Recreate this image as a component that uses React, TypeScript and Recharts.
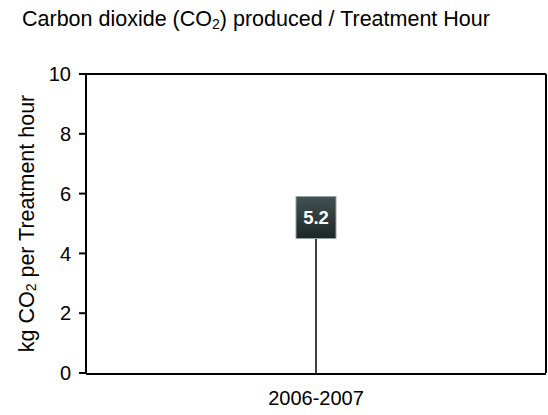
/* CO2 produced per treatment hour, single-period marker chart. */

import { Bar, ComposedChart, Label, ReferenceLine, XAxis, YAxis } from "recharts";

const categories = ["2006-2007"];
const co2PerHour = [5.2];
const yTicks = [0, 2, 4, 6, 8, 10];
const edgeTicks = [0, 1];

const data = categories.map((cat, i) => ({ cat, value: co2PerHour[i] }));

const FONT = "'Liberation Sans', Arial, sans-serif";

function MarkerShape(props: any) {
  const { x, y, width, height, payload } = props;
  const cx = x + width / 2;
  const half = 21;
  return (
    <g>
      <line x1={cx} x2={cx} y1={y + half} y2={y + height} stroke="#000" strokeWidth={1.5} />
      <rect x={cx - 20} y={y - half} width={40} height={half * 2} fill="url(#boxGrad)" stroke="#95a2a2" strokeWidth={1} />
      <text x={cx} y={y} dy="0.36em" textAnchor="middle" fill="#fff" fontWeight="bold" fontSize={18.5} fontFamily={FONT}>
        {payload.value}
      </text>
    </g>
  );
}

function YLabel({ viewBox }: any) {
  const cx = viewBox.x + 27;
  const cy = viewBox.y + viewBox.height / 2;
  return (
    <text transform={`rotate(-90 ${cx} ${cy})`} x={cx} y={cy} textAnchor="middle" dominantBaseline="central" fontSize={21.5} fontFamily={FONT} fill="#000">
      kg CO<tspan dy={4} fontSize={14}>2</tspan>
      <tspan dy={-4}> per Treatment hour</tspan>
    </text>
  );
}

export default function App() {
  return (
    <div style={{ position: "absolute", left: 0, top: 0, width: 548, height: 415, background: "#fff", fontFamily: FONT }}>
      <div style={{ position: "absolute", left: 22, top: 9, fontSize: 21.5, lineHeight: "21px", color: "#000", whiteSpace: "nowrap" }}>
        Carbon dioxide (CO<sub style={{ fontSize: 14, verticalAlign: "-3px", lineHeight: 0 }}>2</sub>) produced / Treatment Hour
      </div>
      <ComposedChart width={548} height={415} data={data} margin={{ top: 74, right: 1, bottom: 0, left: 0 }}>
        <defs>
          <linearGradient id="boxGrad" x1="0" y1="0" x2="0" y2="1">
            <stop offset="0%" stopColor="#435153" />
            <stop offset="100%" stopColor="#1c2627" />
          </linearGradient>
        </defs>
        <XAxis
          xAxisId="a-edges"
          type="number"
          domain={[0, 1]}
          ticks={edgeTicks}
          tick={false}
          tickSize={7}
          axisLine={false}
          height={1}
          tickLine={{ stroke: "#000", strokeWidth: 2 }}
        />
        <XAxis
          xAxisId="b-cat"
          dataKey="cat"
          height={41}
          tickLine={false}
          tickSize={6}
          tickMargin={11}
          axisLine={{ stroke: "#000", strokeWidth: 2 }}
          tick={{ fill: "#000", fontSize: 20, fontFamily: FONT }}
        />
        <YAxis
          yAxisId="left"
          width={86}
          domain={[0, 10]}
          ticks={yTicks}
          interval={0}
          tickSize={7}
          tickMargin={8}
          axisLine={{ stroke: "#000", strokeWidth: 2 }}
          tickLine={{ stroke: "#000", strokeWidth: 2 }}
          tick={{ fill: "#000", fontSize: 20, fontFamily: FONT }}
        >
          <Label content={<YLabel />} />
        </YAxis>
        <YAxis
          yAxisId="right"
          orientation="right"
          width={1}
          domain={[0, 10]}
          tick={false}
          tickLine={false}
          axisLine={{ stroke: "#000", strokeWidth: 2 }}
        />
        <ReferenceLine yAxisId="left" xAxisId="b-cat" y={10} stroke="#000" strokeWidth={2} />
        <Bar
          xAxisId="b-cat"
          yAxisId="left"
          dataKey="value"
          barSize={40}
          shape={<MarkerShape />}
          isAnimationActive={false}
        />
      </ComposedChart>
    </div>
  );
}
